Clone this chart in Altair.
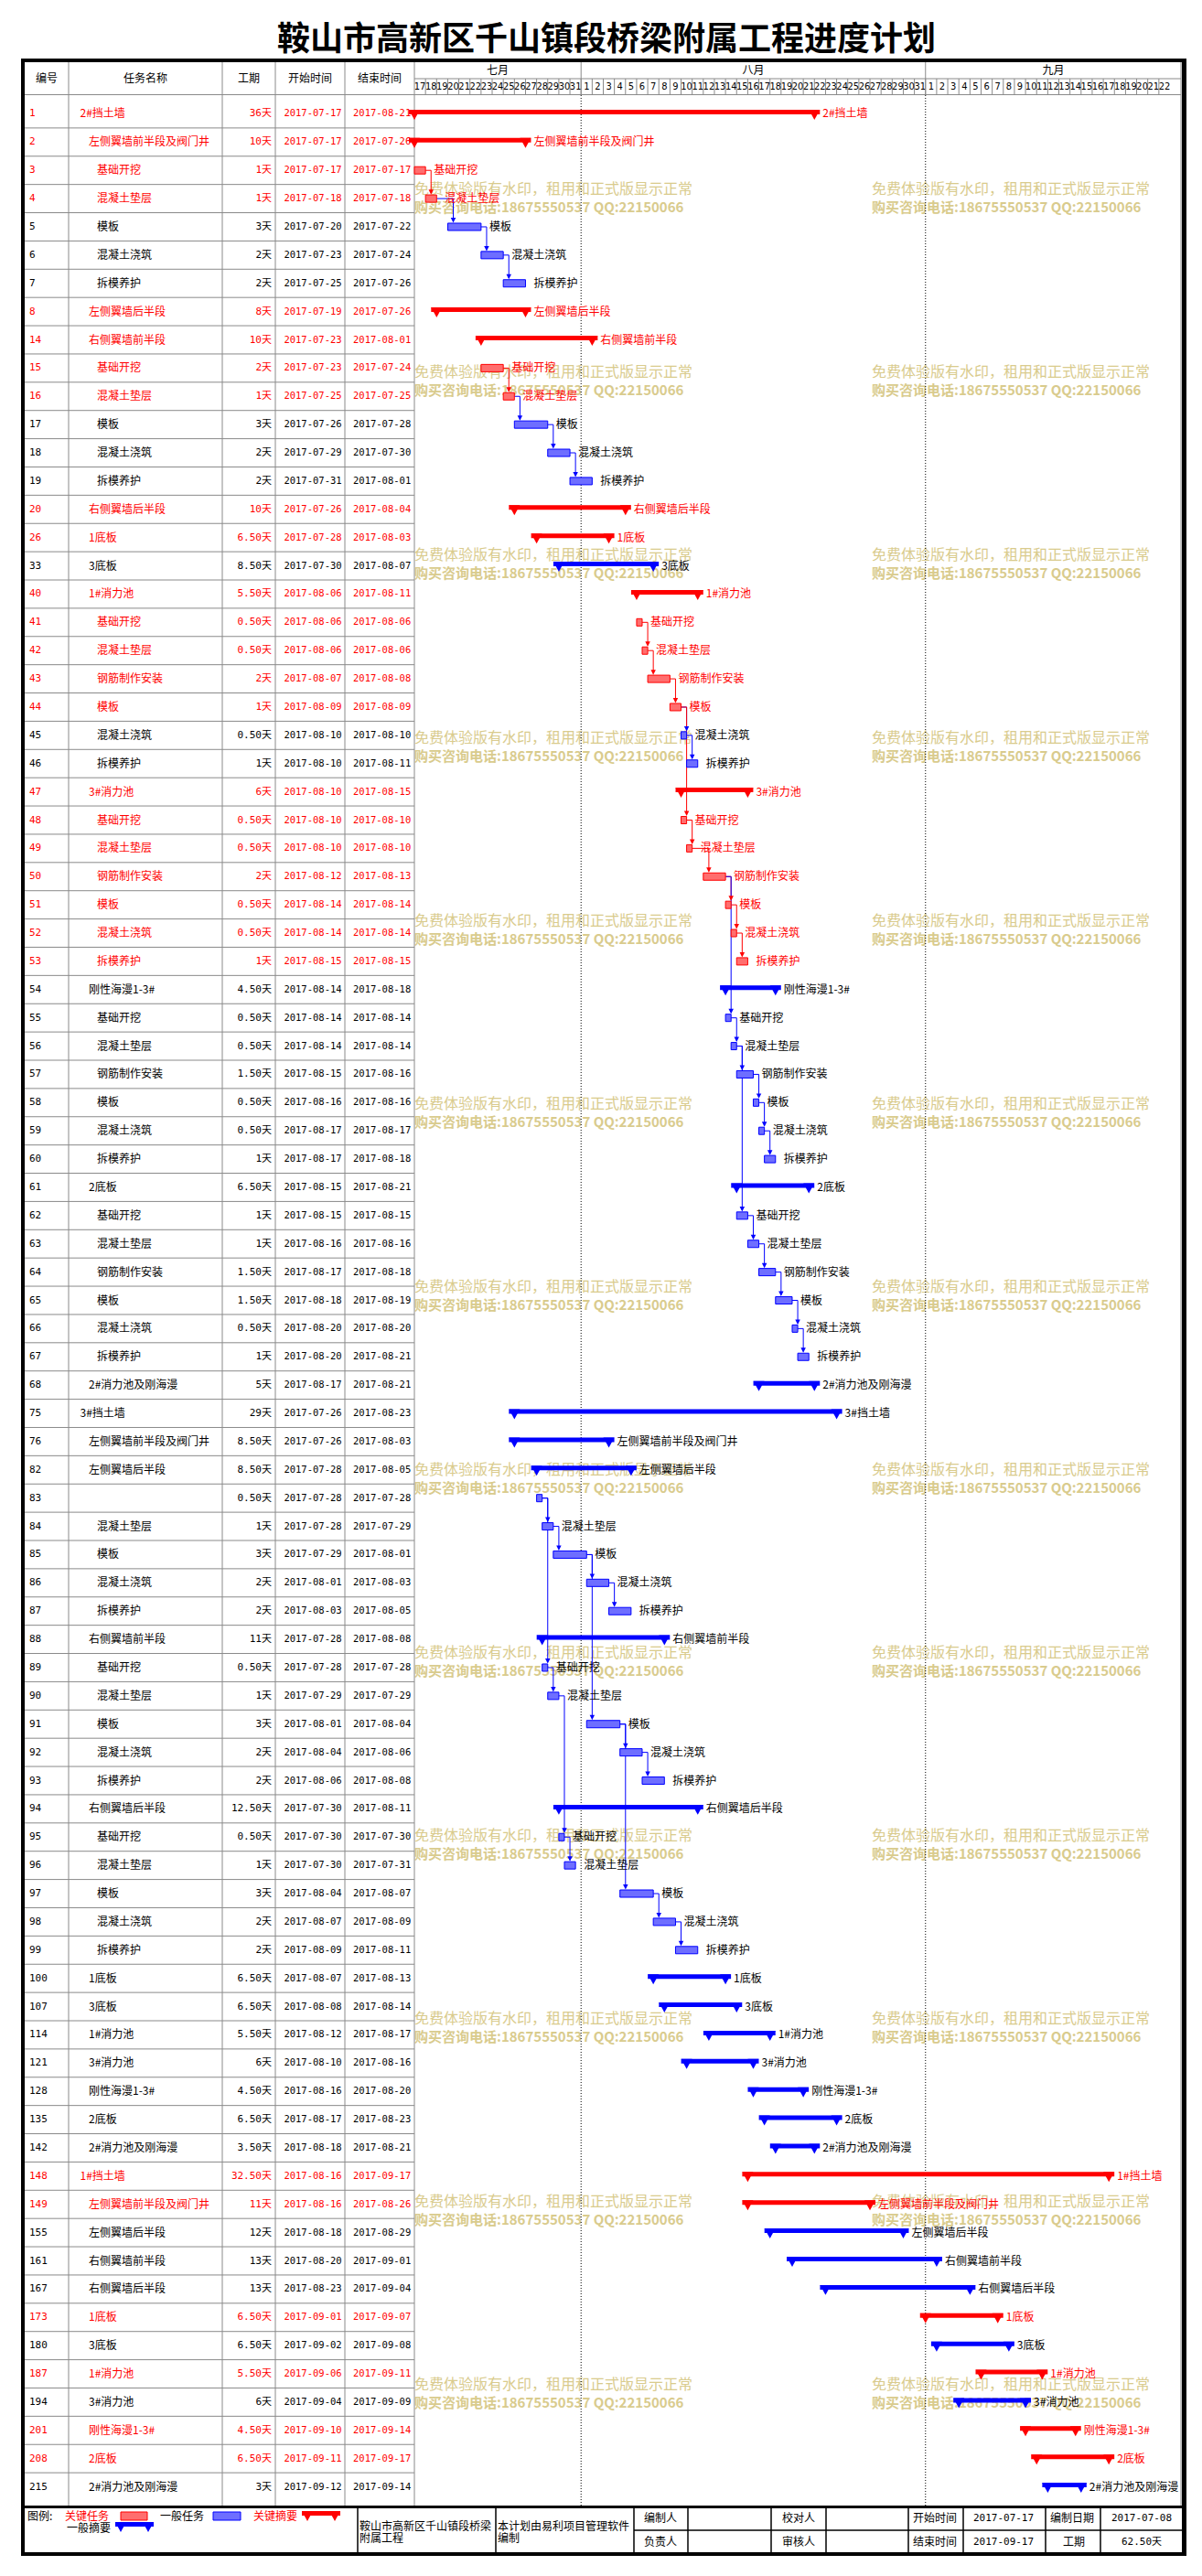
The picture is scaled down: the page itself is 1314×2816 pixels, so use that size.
import altair as alt
import pandas as pd
from datetime import date

# ------------------------------------------------------------------ data
TITLE = "鞍山市高新区千山镇段桥梁附属工程进度计划"

task_ids = [1, 2, 3, 4, 5, 6, 7, 8, 14, 15, 16, 17, 18, 19, 20, 26, 33,
            40, 41, 42, 43, 44, 45, 46, 47, 48, 49, 50, 51, 52, 53,
            54, 55, 56, 57, 58, 59, 60, 61, 62, 63, 64, 65, 66, 67, 68,
            75, 76, 82, 83, 84, 85, 86, 87, 88, 89, 90, 91, 92, 93,
            94, 95, 96, 97, 98, 99, 100, 107, 114, 121, 128, 135, 142,
            148, 149, 155, 161, 167, 173, 180, 187, 194, 201, 208, 215]

task_names = [
    "2#挡土墙", "左侧翼墙前半段及阀门井", "基础开挖", "混凝土垫层", "模板", "混凝土浇筑", "拆模养护",
    "左侧翼墙后半段",
    "右侧翼墙前半段", "基础开挖", "混凝土垫层", "模板", "混凝土浇筑", "拆模养护",
    "右侧翼墙后半段", "1底板", "3底板",
    "1#消力池", "基础开挖", "混凝土垫层", "钢筋制作安装", "模板", "混凝土浇筑", "拆模养护",
    "3#消力池", "基础开挖", "混凝土垫层", "钢筋制作安装", "模板", "混凝土浇筑", "拆模养护",
    "刚性海漫1-3#", "基础开挖", "混凝土垫层", "钢筋制作安装", "模板", "混凝土浇筑", "拆模养护",
    "2底板", "基础开挖", "混凝土垫层", "钢筋制作安装", "模板", "混凝土浇筑", "拆模养护",
    "2#消力池及刚海漫",
    "3#挡土墙", "左侧翼墙前半段及阀门井", "左侧翼墙后半段", "", "混凝土垫层", "模板", "混凝土浇筑", "拆模养护",
    "右侧翼墙前半段", "基础开挖", "混凝土垫层", "模板", "混凝土浇筑", "拆模养护",
    "右侧翼墙后半段", "基础开挖", "混凝土垫层", "模板", "混凝土浇筑", "拆模养护",
    "1底板", "3底板", "1#消力池", "3#消力池", "刚性海漫1-3#", "2底板", "2#消力池及刚海漫",
    "1#挡土墙", "左侧翼墙前半段及阀门井", "左侧翼墙后半段", "右侧翼墙前半段", "右侧翼墙后半段",
    "1底板", "3底板", "1#消力池", "3#消力池", "刚性海漫1-3#", "2底板", "2#消力池及刚海漫",
]

durations = [36, 10, 1, 1, 3, 2, 2, 8, 10, 2, 1, 3, 2, 2, 10, 6.5, 8.5,
             5.5, 0.5, 0.5, 2, 1, 0.5, 1, 6, 0.5, 0.5, 2, 0.5, 0.5, 1,
             4.5, 0.5, 0.5, 1.5, 0.5, 0.5, 1, 6.5, 1, 1, 1.5, 1.5, 0.5, 1, 5,
             29, 8.5, 8.5, 0.5, 1, 3, 2, 2, 11, 0.5, 1, 3, 2, 2,
             12.5, 0.5, 1, 3, 2, 2, 6.5, 6.5, 5.5, 6, 4.5, 6.5, 3.5,
             32.5, 11, 12, 13, 13, 6.5, 6.5, 5.5, 6, 4.5, 6.5, 3]

start_dates = ["07-17", "07-17", "07-17", "07-18", "07-20", "07-23", "07-25", "07-19", "07-23", "07-23",
               "07-25", "07-26", "07-29", "07-31", "07-26", "07-28", "07-30",
               "08-06", "08-06", "08-06", "08-07", "08-09", "08-10", "08-10", "08-10", "08-10", "08-10",
               "08-12", "08-14", "08-14", "08-15",
               "08-14", "08-14", "08-14", "08-15", "08-16", "08-17", "08-17", "08-15", "08-15", "08-16",
               "08-17", "08-18", "08-20", "08-20", "08-17",
               "07-26", "07-26", "07-28", "07-28", "07-28", "07-29", "08-01", "08-03", "07-28", "07-28",
               "07-29", "08-01", "08-04", "08-06",
               "07-30", "07-30", "07-30", "08-04", "08-07", "08-09", "08-07", "08-08", "08-12", "08-10",
               "08-16", "08-17", "08-18",
               "08-16", "08-16", "08-18", "08-20", "08-23", "09-01", "09-02", "09-06", "09-04", "09-10",
               "09-11", "09-12"]

end_dates = ["08-21", "07-26", "07-17", "07-18", "07-22", "07-24", "07-26", "07-26", "08-01", "07-24",
             "07-25", "07-28", "07-30", "08-01", "08-04", "08-03", "08-07",
             "08-11", "08-06", "08-06", "08-08", "08-09", "08-10", "08-11", "08-15", "08-10", "08-10",
             "08-13", "08-14", "08-14", "08-15",
             "08-18", "08-14", "08-14", "08-16", "08-16", "08-17", "08-18", "08-21", "08-15", "08-16",
             "08-18", "08-19", "08-20", "08-21", "08-21",
             "08-23", "08-03", "08-05", "07-28", "07-29", "08-01", "08-03", "08-05", "08-08", "07-28",
             "07-29", "08-04", "08-06", "08-08",
             "08-11", "07-30", "07-31", "08-07", "08-09", "08-11", "08-13", "08-14", "08-17", "08-16",
             "08-20", "08-23", "08-21",
             "09-17", "08-26", "08-29", "09-01", "09-04", "09-07", "09-08", "09-11", "09-09", "09-14",
             "09-17", "09-14"]

# tasks that start at noon of their start date
pm_start_ids = [42, 46, 49, 52, 56, 58, 60, 65, 67, 84, 85, 86, 87, 88, 89, 91, 92, 93,
                96, 97, 98, 99, 100, 107, 114, 121, 128, 135, 142]
critical_ids = [1, 2, 3, 4, 8, 14, 15, 16, 20, 26, 40, 41, 42, 43, 44, 47, 48, 49, 50, 51, 52, 53,
                148, 149, 173, 187, 201, 208]
summary_ids = [1, 2, 8, 14, 20, 26, 33, 40, 47, 54, 61, 68, 75, 76, 82, 88, 94, 100, 107, 114, 121,
               128, 135, 142, 148, 149, 155, 161, 167, 173, 180, 187, 194, 201, 208, 215]
top_level_ids = [1, 75, 148]

links = [(3, 4), (4, 5), (5, 6), (6, 7), (15, 16), (16, 17), (17, 18), (18, 19),
         (41, 42), (42, 43), (43, 44), (44, 45), (45, 46), (44, 48), (48, 49), (49, 50),
         (50, 51), (51, 52), (52, 53), (50, 55), (55, 56), (56, 57), (57, 58), (58, 59),
         (59, 60), (56, 62), (62, 63), (63, 64), (64, 65), (65, 66), (66, 67),
         (83, 84), (84, 85), (85, 86), (86, 87), (83, 89), (89, 90), (85, 91), (91, 92),
         (92, 93), (90, 95), (95, 96), (91, 97), (97, 98), (98, 99)]

day_labels = [str(d) for d in range(17, 32)] + [str(d) for d in range(1, 32)] + [str(d) for d in range(1, 23)]
month_labels = ["七月", "八月", "九月"]
header_labels = ["编号", "任务名称", "工期", "开始时间", "结束时间"]
legend_labels = ["图例:", "关键任务", "一般任务", "关键摘要", "一般摘要"]
project_lines = ["鞍山市高新区千山镇段桥梁", "附属工程"]
software_lines = ["本计划由易利项目管理软件", "编制"]
sign_labels = ["编制人", "负责人", "校对人", "审核人"]
info_labels = ["开始时间", "结束时间", "编制日期", "工期"]
info_values = ["2017-07-17", "2017-09-17", "2017-07-08", "62.50天"]
watermark_lines = ["免费体验版有水印，租用和正式版显示正常", "购买咨询电话:18675550537 QQ:22150066"]

# ------------------------------------------------------------------ styles
RED, BLUE, BLACK = "#FF0000", "#0000FF", "#000000"
RED_FILL, BLUE_FILL = "#FF6E6E", "#6E6EFF"
GRID = "#8A8A8A"
WM = "#D9CB8D"
CJK = "Noto Sans CJK SC"
MONO = "DejaVu Sans Mono, Noto Sans CJK SC"
NARROW = "Liberation Sans Narrow, DejaVu Sans Condensed, Noto Sans CJK SC"
TRI = "M-1,-1L1,-1L0,0.83Z"
ARROW = "M-1,-1L1,-1L0,1Z"

N = len(task_ids)
N_DAYS = 69
XS = alt.Scale(domain=[0, N_DAYS], range=[445, 445 + N_DAYS * 12.147], nice=False, zero=False)
YS = alt.Scale(domain=[0, N], range=[96, 96 + 31 * N], nice=False, zero=False)


def X(f):
    return alt.X(f, scale=XS, axis=None)


def Y(f):
    return alt.Y(f, scale=YS, axis=None)


base_day = date(2017, 7, 17)


def day_no(md):
    m, d = (int(v) for v in md.split("-"))
    return (date(2017, m, d) - base_day).days


def dur_text(v):
    return f"{int(v)}天" if float(v).is_integer() else f"{v:.2f}天"


recs = []
for i, tid in enumerate(task_ids):
    s = day_no(start_dates[i]) + (0.5 if tid in pm_start_ids else 0.0)
    crit = tid in critical_ids
    summ = tid in summary_ids
    recs.append(dict(
        row=i, yc=i + 0.5, tid=str(tid), name=task_names[i], dur=dur_text(durations[i]),
        sd="2017-" + start_dates[i], ed="2017-" + end_dates[i],
        s=s, e=s + durations[i], summ=summ, crit=crit,
        level=0 if tid in top_level_ids else (1 if summ else 2),
        tc=RED if crit else BLACK, bc=RED if crit else BLUE, fc=RED_FILL if crit else BLUE_FILL))
tasks = pd.DataFrame(recs)
reg = tasks[~tasks.summ]
summ_df = tasks[tasks.summ]

idx = {tid: i for i, tid in enumerate(task_ids)}
lk = []
for p, q in links:
    rp, rq = tasks.iloc[idx[p]], tasks.iloc[idx[q]]
    lk.append(dict(x1=rp.e, lx=rq.s + 0.5, y1=rp.yc, y2=rq.yc,
                   c=RED if (rp.crit and rq.crit) else BLUE))
lk = pd.DataFrame(lk)

layers = []


def px_rules(segs, color, width=1.0, dash=None):
    df = pd.DataFrame(segs, columns=["x", "x2", "y", "y2"])
    kw = dict(color=color, strokeWidth=width)
    if dash:
        kw["strokeDash"] = dash
    return alt.Chart(df).mark_rule(**kw).encode(
        x=alt.X("x:Q", scale=None, axis=None), x2="x2:Q",
        y=alt.Y("y:Q", scale=None, axis=None), y2="y2:Q")


def px_rects(segs, fill, stroke=None):
    df = pd.DataFrame(segs, columns=["x", "x2", "y", "y2"])
    kw = dict(color=fill)
    if stroke:
        kw.update(stroke=stroke, strokeWidth=1)
    return alt.Chart(df).mark_rect(**kw).encode(
        x=alt.X("x:Q", scale=None, axis=None), x2="x2:Q",
        y=alt.Y("y:Q", scale=None, axis=None), y2="y2:Q")


def px_text(items, size=12, font=CJK, color=BLACK, align="left", weight="normal"):
    df = pd.DataFrame(items, columns=["x", "y", "t"])
    return alt.Chart(df).mark_text(align=align, baseline="middle", fontSize=size, font=font,
                                   color=color, fontWeight=weight).encode(
        x=alt.X("x:Q", scale=None, axis=None), y=alt.Y("y:Q", scale=None, axis=None), text="t:N")


def px_tris(items, color):
    df = pd.DataFrame(items, columns=["x", "y"])
    return alt.Chart(df).mark_point(shape=TRI, size=144, filled=True, opacity=1, strokeWidth=0,
                                    color=color).encode(
        x=alt.X("x:Q", scale=None, axis=None), y=alt.Y("y:Q", scale=None, axis=None))


# watermark (under everything)
layers.append(px_text([(xx, 199 + 200 * k, watermark_lines[0]) for k in range(13) for xx in (445, 945)],
                      size=16, color=WM))
layers.append(px_text([(xx, 219 + 200 * k, watermark_lines[1]) for k in range(13) for xx in (445, 945)],
                      size=15, color=WM, font="Liberation Sans Narrow, " + CJK, weight="bold"))

# table grid
sep = pd.DataFrame({"r": list(range(1, N))})
layers.append(alt.Chart(sep).mark_rule(color=GRID, strokeWidth=1).encode(
    y=Y("r:Q"), x=alt.value(19), x2=alt.value(445)))
layers.append(px_rules([(c, c, 60, 96 + 31 * N) for c in (67, 235, 293, 369, 445, 1283)], GRID))
layers.append(px_rules([(19, 1283, 95.5, 95.5), (445, 1283, 78, 78)], GRID))

# timeline header
day_df = pd.DataFrame({"k": list(range(len(day_labels))), "lab": day_labels})
day_df["kc"] = day_df["k"] + 0.5
layers.append(alt.Chart(pd.DataFrame({"k": list(range(1, len(day_labels)))})).mark_rule(
    color=GRID, strokeWidth=1).encode(x=X("k:Q"), y=alt.value(78), y2=alt.value(95.5)))
layers.append(alt.Chart(day_df).mark_text(font=NARROW, fontSize=11, baseline="middle").encode(
    x=X("kc:Q"), y=alt.value(87), text="lab:N"))
first_idx = [i for i, d in enumerate(day_labels) if d == "1"]
bounds = [0] + first_idx + [N_DAYS]
month_df = pd.DataFrame({"m": month_labels, "a": bounds[:-1], "b": bounds[1:]})
month_df["c"] = (month_df["a"] + month_df["b"]) / 2
fb = pd.DataFrame({"k": first_idx})
layers.append(alt.Chart(fb).mark_rule(color=GRID, strokeWidth=1).encode(
    x=X("k:Q"), y=alt.value(60), y2=alt.value(95.5)))
layers.append(alt.Chart(month_df).mark_text(font=CJK, fontSize=12, baseline="middle").encode(
    x=X("c:Q"), y=alt.value(69), text="m:N"))
layers.append(alt.Chart(fb).mark_rule(color=BLACK, strokeWidth=1, strokeDash=[1, 2]).encode(
    x=X("k:Q"), y=alt.value(96), y2=alt.value(96 + 31 * N)))

# column headers
layers.append(px_text([(43, 77.5, header_labels[0]), (151, 77.5, header_labels[1]),
                       (264, 77.5, header_labels[2]), (331, 77.5, header_labels[3]),
                       (407, 77.5, header_labels[4])], size=12, align="center"))

# dependency links
layers.append(alt.Chart(lk).mark_rule(strokeWidth=1).encode(
    x=X("x1:Q"), x2="lx:Q", y=Y("y1:Q"), color=alt.Color("c:N", scale=None)))
layers.append(alt.Chart(lk).mark_rule(strokeWidth=1, y2Offset=-6).encode(
    x=X("lx:Q"), y=Y("y1:Q"), y2="y2:Q", color=alt.Color("c:N", scale=None)))

# task boxes
layers.append(alt.Chart(reg).mark_bar(size=8, strokeWidth=1).encode(
    x=X("s:Q"), x2="e:Q", y=Y("yc:Q"),
    color=alt.Color("fc:N", scale=None), stroke=alt.Stroke("bc:N", scale=None)))

# summary bars with end notches
layers.append(alt.Chart(summ_df).mark_bar(size=5, yOffset=-2, xOffset=-6, x2Offset=6).encode(
    x=X("s:Q"), x2="e:Q", y=Y("yc:Q"), color=alt.Color("bc:N", scale=None)))
ends_df = pd.concat([summ_df[["s", "yc", "bc"]].rename(columns={"s": "p"}),
                     summ_df[["e", "yc", "bc"]].rename(columns={"e": "p"})])
layers.append(alt.Chart(ends_df).mark_point(shape=TRI, size=144, filled=True, opacity=1,
                                            strokeWidth=0, yOffset=1.5).encode(
    x=X("p:Q"), y=Y("yc:Q"), color=alt.Color("bc:N", scale=None)))

# arrow heads
layers.append(alt.Chart(lk).mark_point(shape=ARROW, size=30, filled=True, opacity=1,
                                       strokeWidth=0, yOffset=-7.2).encode(
    x=X("lx:Q"), y=Y("y2:Q"), color=alt.Color("c:N", scale=None)))

# bar labels
layers.append(alt.Chart(tasks).mark_text(align="left", baseline="middle", dx=9, font=CJK,
                                         fontSize=12).encode(
    x=X("e:Q"), y=Y("yc:Q"), text="name:N", color=alt.Color("tc:N", scale=None)))

# table cells


def col_text(df, field, xpx, align, font, size):
    return alt.Chart(df).mark_text(align=align, baseline="middle", font=font, fontSize=size).encode(
        x=alt.value(xpx), y=Y("yc:Q"), text=f"{field}:N", color=alt.Color("tc:N", scale=None))


layers.append(col_text(tasks, "tid", 24, "left", MONO, 11))
for lv, xpx in ((0, 79.5), (1, 89), (2, 98)):
    layers.append(col_text(tasks[tasks.level == lv], "name", xpx, "left", CJK, 12))
layers.append(col_text(tasks, "dur", 289, "right", MONO, 11))
layers.append(col_text(tasks, "sd", 334, "center", MONO, 10.5))
layers.append(col_text(tasks, "ed", 378, "left", MONO, 10.5))

# title
layers.append(px_text([(655, 36, TITLE)], size=36, align="center", weight="bold"))

# footer
FY1, FY2 = 2745, 2771
layers.append(px_rules([(c, c, 2733, 2782) for c in (383, 534, 685, 744, 835, 895, 985, 1045, 1135, 1195)],
                       BLACK, 1.5))
layers.append(px_rules([(685, 1284, 2758, 2758)], BLACK, 1.5))
layers.append(px_text([(22, 2743, legend_labels[0]), (167, 2743, legend_labels[2]),
                       (65, 2756, legend_labels[4])], size=12))
layers.append(px_text([(63, 2743, legend_labels[1]), (269, 2743, legend_labels[3])], size=12, color=RED))
layers.append(px_rects([(124, 153, 2738, 2747)], RED_FILL, RED))
layers.append(px_rects([(225, 255, 2738, 2747)], BLUE_FILL, BLUE))
layers.append(px_rects([(322, 364, 2737, 2742)], RED))
layers.append(px_tris([(328, 2743), (358, 2743)], RED))
layers.append(px_rects([(118, 160, 2749, 2754)], BLUE))
layers.append(px_tris([(124, 2755), (154, 2755)], BLUE))
layers.append(px_text([(385, 2754, project_lines[0]), (385, 2767, project_lines[1]),
                       (536, 2754, software_lines[0]), (536, 2767, software_lines[1])], size=12))
layers.append(px_text([(696, FY1, sign_labels[0]), (696, FY2, sign_labels[1]),
                       (847, FY1, sign_labels[2]), (847, FY2, sign_labels[3]),
                       (990, FY1, info_labels[0]), (990, FY2, info_labels[1]),
                       (1140, FY1, info_labels[2])], size=12))
layers.append(px_text([(1166, FY2, info_labels[3])], size=12, align="center"))
layers.append(px_text([(1089, FY1, info_values[0]), (1089, FY2, info_values[1]),
                       (1240, FY1, info_values[2]), (1240, FY2, info_values[3])],
                      size=11, font=MONO, align="center"))

# thick outer borders
layers.append(px_rects([(15, 1289, 56, 60), (15, 19, 56, 2786), (1284, 1289, 56, 2786),
                        (15, 1289, 2782, 2786), (15, 1289, 2731, 2734)], BLACK))

chart = alt.layer(*layers).properties(
    width=1298, height=2800, padding=0, autosize="none", background="white"
).configure_view(stroke=None)

chart.save("out.html", embed_options={"renderer": "svg", "actions": False})
